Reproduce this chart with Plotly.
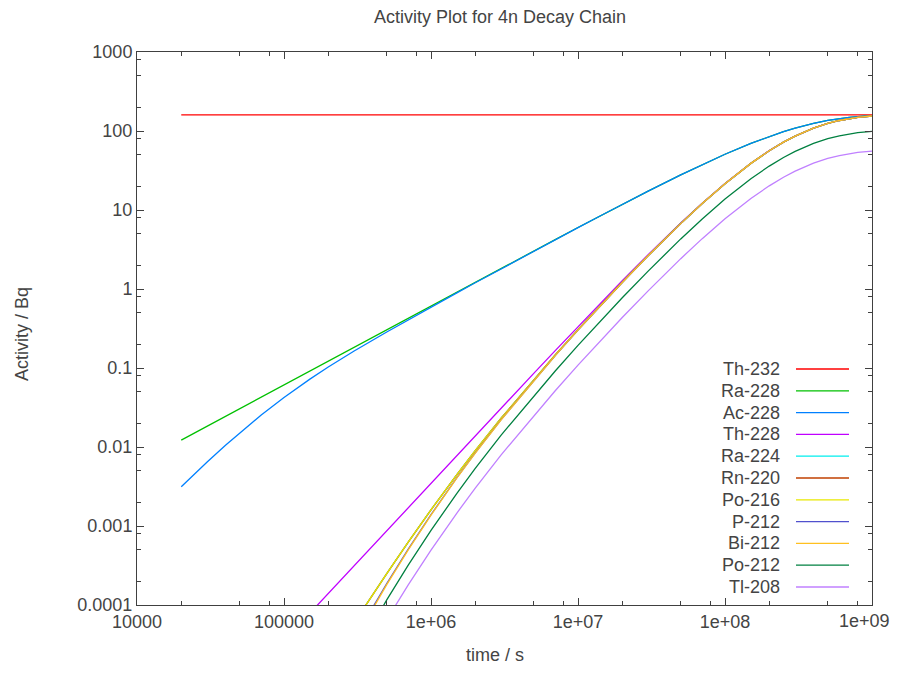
import plotly.graph_objects as go

# ---------------- data ----------------
names = ["Th-232", "Ra-228", "Ac-228", "Th-228", "Ra-224", "Rn-220",
         "Po-216", "P-212", "Bi-212", "Po-212", "Tl-208"]
colors = ["#ff0000", "#00c000", "#0080ff", "#c000ff", "#00eeee", "#c04000",
          "#e8e800", "#5050cd", "#ffc020", "#008040", "#c080ff"]

t_th232 = [2e4, 1e9]
th232 = [160, 160]

t_long = [2e4, 2.5e4, 3e4, 4e4, 5e4, 7e4, 1e5, 1.5e5, 2e5, 3e5, 5e5, 7e5,
          1e6, 1.5e6, 2e6, 3e6, 5e6, 7e6, 1e7, 1.5e7, 2e7, 3e7, 5e7, 7e7,
          1e8, 1.5e8, 2e8, 2.5e8, 3e8, 4e8, 5e8, 6e8, 7e8, 8e8, 1e9]
ra228 = [0.01222, 0.01528, 0.01834, 0.02445, 0.03056, 0.04278, 0.0611, 0.0917,
         0.1222, 0.1833, 0.3053, 0.4275, 0.6101, 0.9142, 1.2177, 1.823, 3.027,
         4.222, 5.997, 8.91, 11.77, 17.33, 27.82, 37.53, 50.8, 69.8, 85.5,
         98.43, 109.1, 125.28, 136.3, 143.83, 148.96, 152.47, 156.5]
ac228 = [0.003139, 0.004684, 0.006445, 0.010505, 0.01512, 0.02544, 0.04245,
         0.07234, 0.10276, 0.16384, 0.2861, 0.4083, 0.5906, 0.8948, 1.1984,
         1.8038, 3.008, 4.203, 5.978, 8.89, 11.75, 17.31, 27.80, 37.51, 50.78,
         69.78, 85.48, 98.42, 109.08, 125.27, 136.29, 143.82, 148.95, 152.46, 156.5]

t_th228 = [1e5, 1.5e5, 2e5, 3e5, 5e5, 7e5, 1e6, 1.5e6, 2e6, 3e6, 5e6, 7e6,
           1e7, 1.5e7, 2e7, 3e7, 5e7, 7e7, 1e8, 1.5e8, 2e8, 2.5e8, 3e8, 4e8,
           5e8, 6e8, 7e8, 8e8, 1e9]
th228 = [3.51e-5, 7.90e-5, 1.405e-4, 3.160e-4, 8.76e-4, 1.7145e-3, 3.494e-3,
         7.841e-3, 0.013903, 0.03112, 0.08555, 0.16606, 0.3338, 0.7323, 1.2697,
         2.7186, 6.849, 12.203, 21.67, 39.08, 56.36, 72.27, 86.34, 108.80,
         124.76, 135.86, 143.49, 148.72, 154.74]

t_chain = [3e5, 4e5, 5e5, 7e5, 1e6, 1.5e6, 2e6, 3e6, 5e6, 7e6, 1e7, 1.5e7,
           2e7, 3e7, 5e7, 7e7, 1e8, 1.5e8, 2e8, 2.5e8, 3e8, 4e8, 5e8, 6e8,
           7e8, 8e8, 1e9]
ra224 = [5.948e-5, 1.342e-4, 2.500e-4, 6.265e-4, 1.6025e-3, 4.478e-3, 9.006e-3,
         0.023125, 0.071424, 0.14592, 0.3055, 0.691, 1.2156, 2.643, 6.741,
         12.073, 21.52, 38.93, 56.22, 72.20, 86.24, 108.78, 124.72, 135.85,
         143.47, 148.72, 154.74]
rn220 = [5.948e-5, 1.342e-4, 2.500e-4, 6.265e-4, 1.6025e-3, 4.478e-3, 9.006e-3,
         0.023125, 0.071424, 0.14592, 0.3055, 0.691, 1.2156, 2.643, 6.741,
         12.073, 21.52, 38.93, 56.22, 72.20, 86.24, 108.78, 124.72, 135.85,
         143.47, 148.72, 154.74]
po216 = [5.948e-5, 1.342e-4, 2.500e-4, 6.265e-4, 1.6025e-3, 4.478e-3, 9.006e-3,
         0.023125, 0.071424, 0.14592, 0.3055, 0.691, 1.2156, 2.643, 6.741,
         12.073, 21.52, 38.93, 56.22, 72.20, 86.24, 108.78, 124.72, 135.85,
         143.47, 148.72, 154.74]
pb212 = [3.710e-5, 9.349e-5, 1.869e-4, 5.0956e-4, 1.3909e-3, 4.0895e-3,
         8.431e-3, 0.022173, 0.069726, 0.14348, 0.3019, 0.6858, 1.2091, 2.634,
         6.729, 12.057, 21.50, 38.91, 56.20, 72.19, 86.22, 108.77, 124.70,
         135.84, 143.46, 148.71, 154.73]
bi212 = [3.482e-5, 8.975e-5, 1.8113e-4, 4.9886e-4, 1.3721e-3, 4.0546e-3,
         8.379e-3, 0.022088, 0.069573, 0.14325, 0.30157, 0.6853, 1.2085, 2.633,
         6.728, 12.056, 21.50, 38.91, 56.20, 72.19, 86.22, 108.77, 124.70,
         135.84, 143.46, 148.71, 154.73]
po212 = [2.228e-5, 5.744e-5, 1.1592e-4, 3.1927e-4, 8.781e-4, 2.5949e-3,
         5.363e-3, 0.014136, 0.044527, 0.09168, 0.19300, 0.43859, 0.77344,
         1.6851, 4.306, 7.716, 13.76, 24.90, 35.97, 46.20, 55.18, 69.61, 79.81,
         86.94, 91.81, 95.17, 99.03]
tl208 = [1.2535e-5, 3.231e-5, 6.521e-5, 1.7959e-4, 4.9396e-4, 1.4597e-3,
         3.0164e-3, 7.952e-3, 0.025046, 0.05157, 0.10857, 0.24671, 0.43506,
         0.9479, 2.422, 4.340, 7.740, 14.01, 20.23, 25.99, 31.04, 39.16, 44.89,
         48.90, 51.65, 53.54, 55.70]

x_tickvals = [1e4, 1e5, 1e6, 1e7, 1e8, 1e9]
x_ticktext = ["10000", "100000", "1e+06", "1e+07", "1e+08", "1e+09"]
y_tickvals = [1e-4, 1e-3, 1e-2, 1e-1, 1, 10, 100, 1000]
y_ticktext = ["0.0001", "0.001", "0.01", "0.1", "1", "10", "100", "1000"]

# ---------------- figure ----------------
series = [(t_th232, th232), (t_long, ra228), (t_long, ac228), (t_th228, th228),
          (t_chain, ra224), (t_chain, rn220), (t_chain, po216), (t_chain, pb212),
          (t_chain, bi212), (t_chain, po212), (t_chain, tl208)]

fig = go.Figure()
for (xs, ys), nm, col in zip(series, names, colors):
    fig.add_trace(go.Scatter(x=xs, y=ys, mode="lines", name=nm,
                             line=dict(color=col, width=1.3), showlegend=False))

FONT = dict(family="Liberation Sans, Arial, sans-serif", size=18, color="#444444")
AX = "#404040"

def minor_vals(lo, hi):
    out = []
    for e in range(lo, hi):
        for m in (2, 5, 8):
            out.append(m * 10 ** e)
    return out

# the last x label would overflow the page edge; it is placed as an annotation below
x_ticktext_axis = x_ticktext[:-1] + [""]

fig.update_xaxes(type="log", range=[4, 9], tickmode="array",
                 tickvals=x_tickvals, ticktext=x_ticktext_axis,
                 showline=True, mirror="ticks", linecolor=AX, linewidth=1,
                 ticks="inside", ticklen=7, tickcolor=AX, tickwidth=1,
                 showgrid=False, zeroline=False, tickfont=FONT,
                 minor=dict(tickmode="array", tickvals=minor_vals(4, 9),
                            ticks="inside", ticklen=4, tickcolor=AX, showgrid=False))
fig.update_yaxes(type="log", range=[-4, 3], tickmode="array",
                 tickvals=y_tickvals, ticktext=y_ticktext,
                 showline=True, mirror="ticks", linecolor=AX, linewidth=1,
                 ticks="inside", ticklen=7, tickcolor=AX, tickwidth=1,
                 showgrid=False, zeroline=False, tickfont=FONT,
                 minor=dict(tickmode="array", tickvals=minor_vals(-4, 3),
                            ticks="inside", ticklen=4, tickcolor=AX, showgrid=False))

# page body has an 8px margin; build the figure so the plot lands where the reference has it
OFF = 8
W, H = 901 - 2 * OFF, 674 - 2 * OFF
PLOT_L, PLOT_R, PLOT_T, PLOT_B = 137, 872, 52, 605   # in window pixels
L = PLOT_L - OFF
T = PLOT_T - OFF
R = W - (PLOT_R - OFF)
B = H - (PLOT_B - OFF)
PW, PH = PLOT_R - PLOT_L, PLOT_B - PLOT_T

def px_x(px):
    return (px - PLOT_L) / PW

def px_y(py):
    return (PLOT_B - py) / PH

annotations = [
    dict(text="time / s", x=px_x(495), y=px_y(655), xref="paper", yref="paper",
         showarrow=False, xanchor="center", yanchor="middle", font=FONT),
    dict(text="Activity / Bq", x=px_x(22), y=px_y(334), xref="paper", yref="paper",
         showarrow=False, xanchor="center", yanchor="middle", textangle=-90, font=FONT),
    dict(text=x_ticktext[-1], x=px_x(864), y=px_y(621), xref="paper", yref="paper",
         showarrow=False, xanchor="center", yanchor="middle", font=FONT),
]
shapes = []
for i, (nm, col) in enumerate(zip(names, colors)):
    yy = px_y(369 + i * 21.8)
    annotations.append(dict(text=nm, x=px_x(782), y=yy, xref="paper", yref="paper",
                            showarrow=False, xanchor="right", yanchor="middle",
                            font=FONT))
    shapes.append(dict(type="line", xref="paper", yref="paper",
                       x0=px_x(796), x1=px_x(849), y0=yy, y1=yy,
                       line=dict(color=col, width=1.3)))

fig.update_layout(
    width=W, height=H,
    margin=dict(l=L, r=R, t=T, b=B),
    paper_bgcolor="white", plot_bgcolor="white",
    title=dict(text="Activity Plot for 4n Decay Chain", x=px_x(500), xref="paper",
               xanchor="center", y=1 - (17 - OFF) / H, yref="container",
               yanchor="middle", font=FONT),
    annotations=annotations, shapes=shapes,
    showlegend=False,
)

fig.write_html("out.html")
